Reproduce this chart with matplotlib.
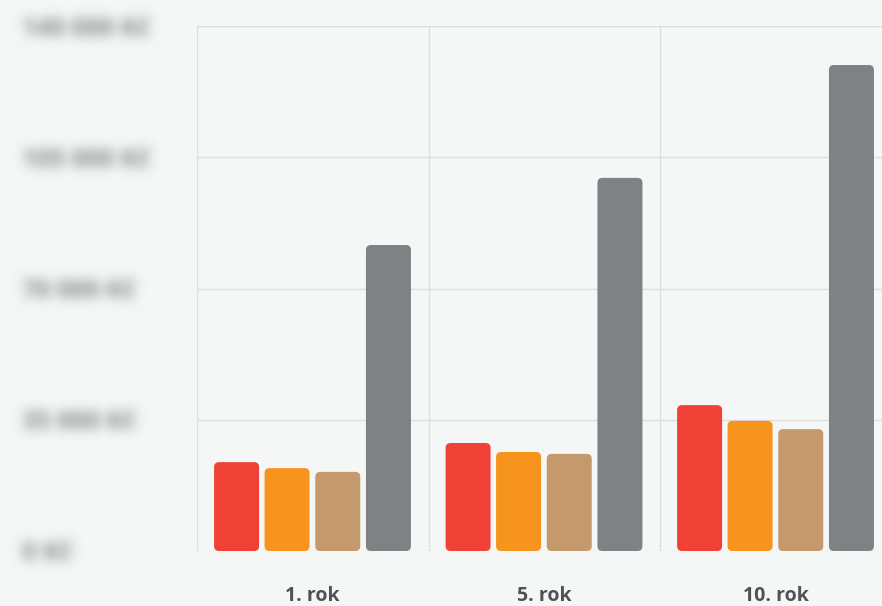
import numpy as np
import matplotlib
matplotlib.use("Agg")
import matplotlib.pyplot as plt
from matplotlib.patches import FancyBboxPatch
from matplotlib.colors import to_rgb

groups = ["1. rok", "5. rok", "10. rok"]
series_colors = ["#F04137", "#F7941E", "#C4996C", "#808184"]
values = [
    [23700, 22100, 21100, 81600],
    [28800, 26400, 25900, 99500],
    [38900, 34700, 32500, 129600],
]
ytick_vals = [0, 35000, 70000, 105000, 140000]
ytick_labels = ["0 Kč", "35 000 Kč", "70 000 Kč", "105 000 Kč", "140 000 Kč"]

bg = "#F5F7F6"
grid_c = "#DCDDDE"
label_c = "#8C8D8F"


def blur_filter(im, dpi, sigma=6.0, color=label_c):
    pad = int(sigma * 3)
    a = np.pad(im[..., 3], pad)
    r = np.arange(-pad, pad + 1)
    k = np.exp(-r**2 / (2 * sigma**2))
    k /= k.sum()
    a = np.apply_along_axis(lambda m: np.convolve(m, k, mode="same"), 0, a)
    a = np.apply_along_axis(lambda m: np.convolve(m, k, mode="same"), 1, a)
    out = np.zeros(a.shape + (4,))
    out[..., :3] = to_rgb(color)
    out[..., 3] = np.clip(a * 1.1, 0, 1)
    return out, -pad, -pad


fig = plt.figure(figsize=(8.82, 6.06), dpi=100)
fig.patch.set_facecolor(bg)
ax = fig.add_axes([197 / 882, 1 - 551 / 606, 694.5 / 882, 525 / 606])
ax.set_facecolor(bg)
ax.set_xlim(-0.5, 2.5)
ax.set_ylim(0, 140000)

for s in ax.spines.values():
    s.set_visible(False)

for y in ytick_vals:
    ax.axhline(y, color=grid_c, lw=1, zorder=0)
for x in [-0.5, 0.5, 1.5, 2.5]:
    ax.axvline(x, color=grid_c, lw=1, zorder=0)

# px -> data scaling for rounded corners
px_x = 3 / 694.5
px_y = 140000 / 525
aspect = px_y / px_x
offsets = [-0.329, -0.111, 0.108, 0.327]
width = 45 * px_x
for gi, g in enumerate(groups):
    for si, v in enumerate(values[gi]):
        x0 = gi + offsets[si] - width / 2
        p = FancyBboxPatch((x0, 0), width, v,
                           boxstyle="round,pad=0,rounding_size=%f" % (5 * px_x),
                           mutation_aspect=aspect,
                           fc=series_colors[si], ec="none", zorder=3)
        ax.add_patch(p)

ax.set_xticks(range(len(groups)))
ax.set_xticklabels(groups, fontsize=14, color="#505153", fontweight="bold",
                   family="Open Sans")
ax.tick_params(axis="x", length=0, pad=25)

ax.set_yticks(ytick_vals)
ax.set_yticklabels(ytick_labels, fontsize=18, family="Open Sans", fontweight="bold")
ax.tick_params(axis="y", length=0, pad=126)
for t in ax.get_yticklabels():
    t.set_ha("left")
    t.set_agg_filter(blur_filter)

fig.savefig("out.png", dpi=100, facecolor=bg)
